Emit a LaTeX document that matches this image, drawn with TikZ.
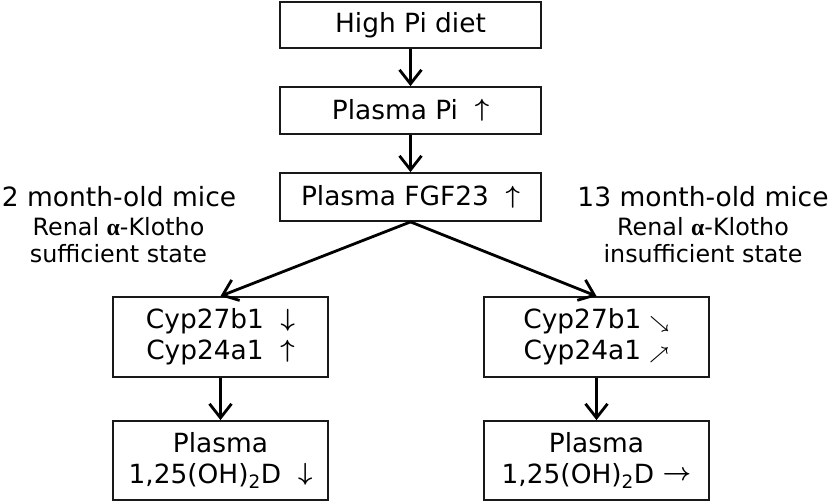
\documentclass[tikz,border=0pt]{standalone}
\usepackage{amsmath}
\usepackage{fontspec}
\setmainfont{DejaVu Sans}
\newfontfamily\serifbold{Liberation Serif}
\usetikzlibrary{arrows.meta}
\newcommand{\smarr}[1]{{\fontsize{16}{16}\selectfont$\boldsymbol{#1}$}}
\newcommand{\bigarr}[1]{\raisebox{2.5pt}{\fontsize{28}{28}\selectfont$\boldsymbol{#1}$}}
\begin{document}
\begin{tikzpicture}[x=1pt,y=1pt,
 box/.style={draw=black!90, line width=1.8pt, inner sep=0pt, align=center, font=\fontsize{26.4}{31}\selectfont},
 flow/.style={line width=2.8pt, -{Straight Barb[length=14pt,width=22pt,line width=2.8pt]}},
 labone/.style={anchor=base, font=\fontsize{26.5}{30}\selectfont},
 labtwo/.style={anchor=base, font=\fontsize{23.8}{28}\selectfont}]
\useasboundingbox (0,0) rectangle (831,501);
\node[box, minimum width=261pt, minimum height=46pt] (diet) at (410.5,476) {High Pi diet};
\node[box, minimum width=261pt, minimum height=47pt] (pi) at (410.5,390.5) {Plasma Pi \ \bigarr{\uparrow}};
\node[box, minimum width=261pt, minimum height=48pt] (fgf) at (410.5,304) {Plasma FGF23 \ \bigarr{\uparrow}};
\node[box, minimum width=215pt, minimum height=80pt] (lcyp) at (220.5,164) {Cyp27b1 \ \bigarr{\downarrow}\\Cyp24a1 \ \bigarr{\uparrow}};
\node[box, minimum width=215pt, minimum height=79pt] (lvd) at (220.5,40.5) {Plasma\\1,25(OH)\textsubscript{2}D \ \bigarr{\downarrow}};
\node[box, minimum width=225pt, minimum height=80pt] (rcyp) at (596.5,164) {Cyp27b1 \smarr{\searrow}\\Cyp24a1 \smarr{\nearrow}};
\node[box, minimum width=225pt, minimum height=79pt] (rvd) at (596.5,40.5) {Plasma\\1,25(OH)\textsubscript{2}D \bigarr{\rightarrow}};
\draw[flow] (diet.south) -- (pi.north);
\draw[flow] (pi.south) -- (fgf.north);
\draw[flow] (fgf.south) -- (lcyp.north);
\draw[flow] (fgf.south) -- (rcyp.north);
\draw[flow] (lcyp.south) -- (lvd.north);
\draw[flow] (rcyp.south) -- (rvd.north);
\node[labone] (la) at (119,294) {2 month-old mice};
\node[labtwo] (lb) at (118.5,265) {Renal {\serifbold\bfseries α}-Klotho};
\node[labtwo] (lc) at (118.5,238) {sufficient state};
\node[labone] (ra) at (703,294) {13 month-old mice};
\node[labtwo] (rb) at (703,265) {Renal {\serifbold\bfseries α}-Klotho};
\node[labtwo] (rc) at (703,238) {insufficient state};
\end{tikzpicture}
\end{document}
